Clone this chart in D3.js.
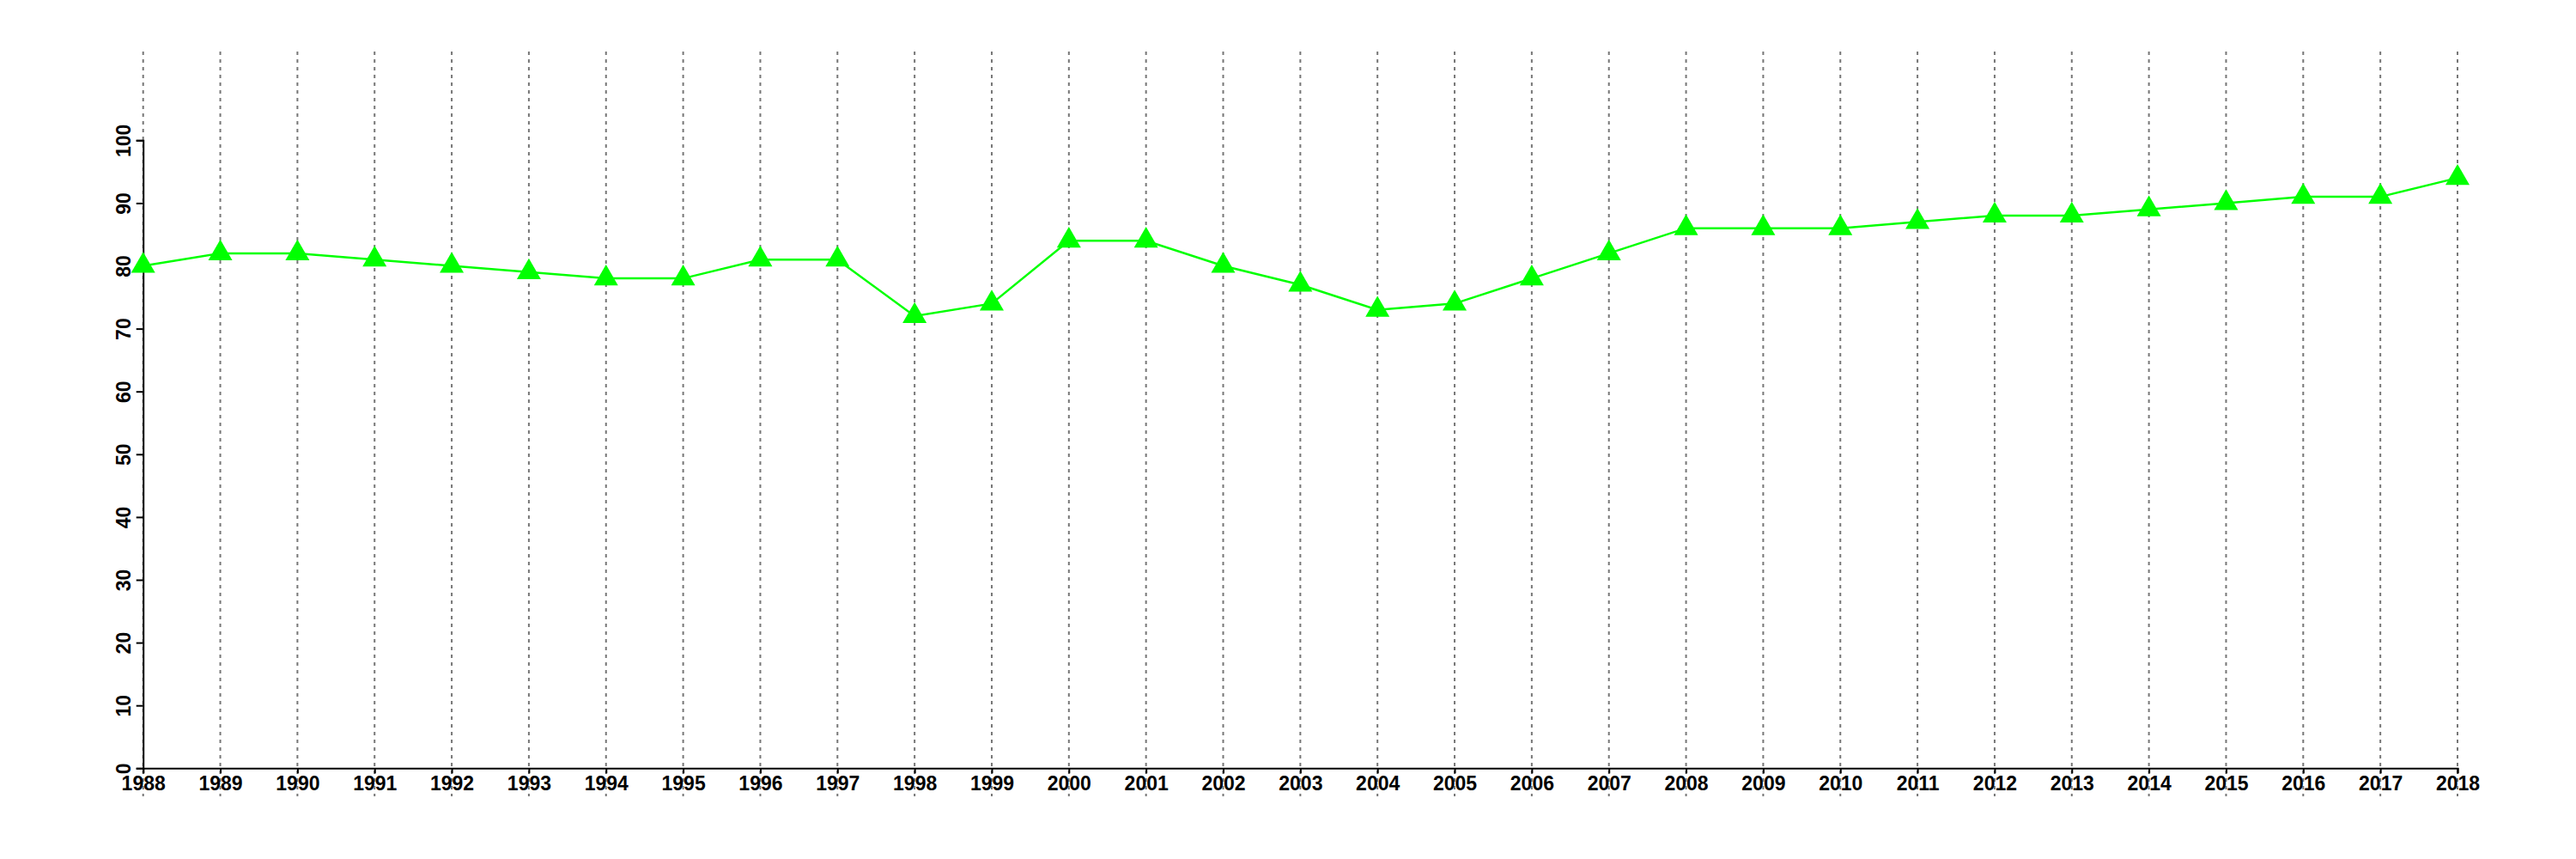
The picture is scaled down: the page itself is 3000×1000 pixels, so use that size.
<!DOCTYPE html>
<html>
<head>
<meta charset="utf-8">
<script src="https://cdn.jsdelivr.net/npm/d3@7"></script>
<style>
  html, body { margin: 0; padding: 0; background: #fff; }
  svg text { font-family: "Liberation Sans", Arial, sans-serif; font-weight: bold; }
</style>
</head>
<body>
<script>
const years = [1988,1989,1990,1991,1992,1993,1994,1995,1996,1997,1998,1999,2000,2001,2002,2003,2004,2005,2006,2007,2008,2009,2010,2011,2012,2013,2014,2015,2016,2017,2018];
const values = [80,82,82,81,80,79,78,78,81,81,72,74,84,84,80,77,73,74,78,82,86,86,86,87,88,88,89,90,91,91,94];
const yTicks = [0,10,20,30,40,50,60,70,80,90,100];

const W = 3000, H = 1000;
const svg = d3.select("body").append("svg").attr("width", W).attr("height", H);

const x = d3.scaleLinear().domain([1988, 2018]).range([166.7, 2862]);
const y = d3.scaleLinear().domain([0, 100]).range([894.3, 163.3]);

// vertical dotted gridlines
svg.append("g").selectAll("line").data(years).join("line")
  .attr("x1", d => x(d)).attr("x2", d => x(d))
  .attr("y1", 60).attr("y2", 927)
  .attr("stroke", "#777").attr("stroke-width", 2)
  .attr("stroke-dasharray", "4,5");

// y axis
const yAxis = d3.axisLeft(y).tickValues(yTicks).tickSize(8).tickPadding(0).tickFormat(d3.format("d"));
const gy = svg.append("g").attr("transform", `translate(${x(1988)},0)`).call(yAxis);
gy.select(".domain").attr("stroke", "#000").attr("stroke-width", 2);
gy.selectAll(".tick line").attr("stroke", "#000").attr("stroke-width", 2);
gy.selectAll(".tick text")
  .attr("x", null).attr("dy", null)
  .attr("text-anchor", "middle")
  .attr("font-size", 23).attr("fill", "#000")
  .attr("transform", "translate(-15,0) rotate(-90)");

// x axis
const xAxis = d3.axisBottom(x).tickValues(years).tickSize(6).tickPadding(2).tickFormat(d3.format("d"));
const gx = svg.append("g").attr("transform", `translate(0,${y(0)})`).call(xAxis);
gx.select(".domain").attr("stroke", "#000").attr("stroke-width", 2);
gx.selectAll(".tick line").attr("stroke", "#000").attr("stroke-width", 2);
gx.selectAll(".tick text").attr("font-size", 23).attr("fill", "#000").attr("dy", "0.71em").attr("y", 9);

// line
const line = d3.line().x((d, i) => x(years[i])).y(d => y(d));
svg.append("path").datum(values)
  .attr("d", line).attr("fill", "none")
  .attr("stroke", "#00ff00").attr("stroke-width", 2.5);

// triangles
svg.append("g").selectAll("path").data(values).join("path")
  .attr("d", d3.symbol(d3.symbolTriangle, 340))
  .attr("transform", (d, i) => `translate(${x(years[i])},${y(d)})`)
  .attr("fill", "#00ff00");
</script>
</body>
</html>
